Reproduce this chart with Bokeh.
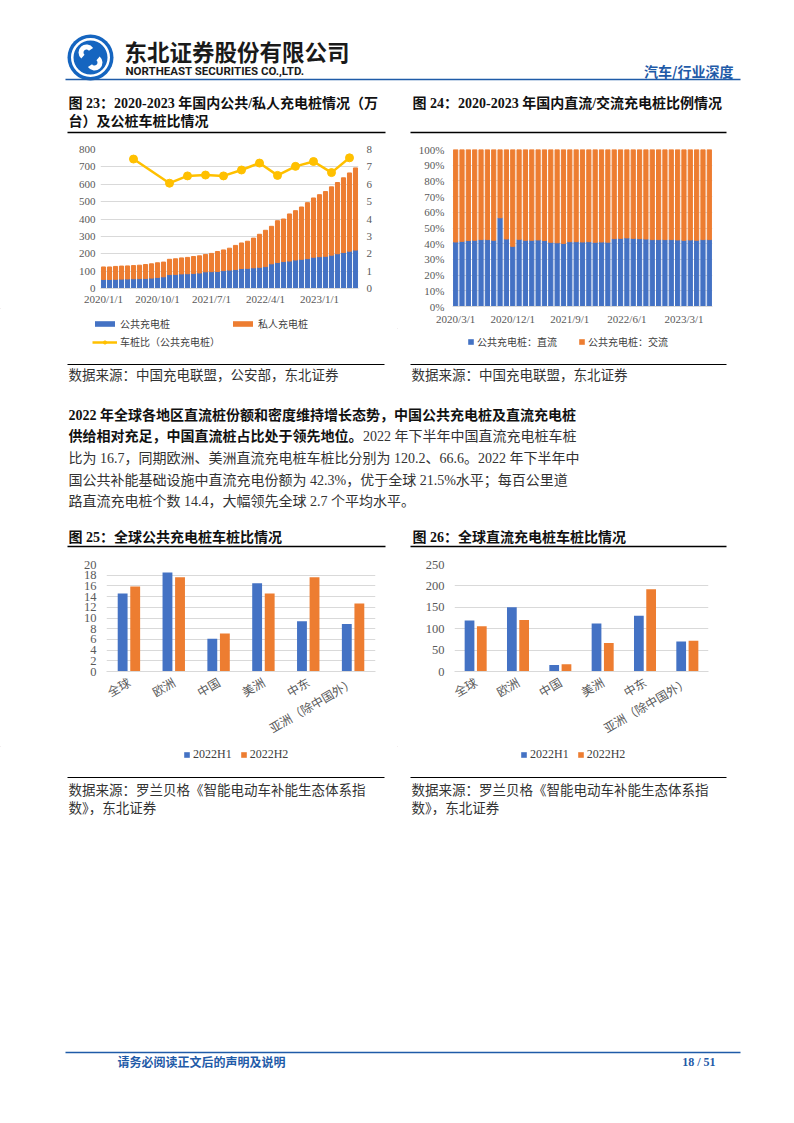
import math
from bokeh.plotting import figure
from bokeh.layouts import column, row
from bokeh.models import (Range1d, LinearAxis, FixedTicker, Legend, LegendItem,
                          ColumnDataSource, FactorRange, PrintfTickFormatter)
from bokeh.transform import dodge
from bokeh.core.properties import value
from bokeh.embed import file_html
from bokeh.resources import INLINE

# ---------------- data ----------------
all_months = [f"{y}/{m}/1" for y in range(2020, 2024) for m in range(1, 13)]
months23 = all_months[:43]          # 2020/1 .. 2023/7
public23 = [52, 52, 53, 54, 55, 56, 57, 58, 60, 64, 67, 80, 81, 84, 85, 87, 89, 96, 97, 98,
            103, 106, 109, 115, 116, 119, 122, 126, 142, 150, 155, 158, 164, 168, 172, 180,
            183, 185, 192, 200, 207, 215, 221]
private23 = [72, 72, 74, 75, 75, 76, 77, 80, 82, 84, 85, 88, 90, 92, 94, 97, 99, 100, 105, 115,
             119, 126, 139, 147, 156, 171, 190, 209, 216, 240, 245, 271, 284, 301, 322, 341,
             357, 373, 393, 410, 430, 450, 473]
ratio_months = ["2020/6/1", "2020/12/1", "2021/3/1", "2021/6/1", "2021/9/1", "2021/12/1",
                "2022/3/1", "2022/6/1", "2022/9/1", "2022/12/1", "2023/3/1", "2023/6/1"]
ratio_values = [7.45, 6.06, 6.48, 6.53, 6.48, 6.82, 7.22, 6.51, 7.03, 7.31, 6.67, 7.52]
tick_labels23 = ["2020/1/1", "2020/10/1", "2021/7/1", "2022/4/1", "2023/1/1"]

months24 = all_months[2:43]         # 2020/3 .. 2023/7
dc_share24 = [41.1, 41.5, 42.0, 42.2, 42.6, 42.6, 42.2, 56.5, 43.0, 38.3, 42.8, 42.2, 42.2,
              42.4, 42.0, 40.9, 40.6, 40.2, 41.3, 41.3, 41.1, 41.3, 40.9, 41.1, 41.0, 43.2,
              43.4, 43.7, 43.4, 43.2, 43.0, 42.6, 42.6, 42.6, 42.6, 42.4, 42.2, 42.4, 42.2,
              42.6, 42.6]
ac_share24 = [100 - v for v in dc_share24]
tick_labels24 = ["2020/3/1", "2020/12/1", "2021/9/1", "2022/6/1", "2023/3/1"]

regions = ["全球", "欧洲", "中国", "美洲", "中东", "亚洲（除中国外）"]
ratio25_h1 = [14.6, 18.5, 6.1, 16.5, 9.4, 8.9]
ratio25_h2 = [15.9, 17.6, 7.1, 14.6, 17.6, 12.7]
dc26_h1 = [119, 150, 15, 112, 130, 70]
dc26_h2 = [106, 120.2, 16.7, 66.6, 192, 72]

# ---------------- style ----------------
BLUE = "#4472C4"
ORANGE = "#ED7D31"
YELLOW = "#FFC000"
GRID = "#D9D9D9"
CJK = "Noto Sans CJK SC"
MIX = "Liberation Serif, Noto Sans CJK SC"
SERIF = "Liberation Serif"
HBLUE = "#1F5BA8"
PAGE_W = 794
HALF = 397


def band(x0, y0, w, h):
    p = figure(width=w, height=h, x_range=Range1d(x0, x0 + w), y_range=Range1d(y0 + h, y0),
               min_border=0, toolbar_location=None, output_backend="svg",
               x_axis_location=None, y_axis_location=None)
    p.grid.visible = False
    p.outline_line_color = None
    return p


def txt(p, x, y, s, size, bold=False, color="#222222", align="left", font=CJK):
    p.text(x=[x], y=[y], text=[s], text_font=value(font), text_font_size=f"{size}px",
           text_font_style="bold" if bold else "normal", text_color=color,
           text_align=align, text_baseline="middle")


def hline(p, x0, x1, y, color="black", width=1.0):
    p.segment(x0=[x0], y0=[y], x1=[x1], y1=[y], line_color=color, line_width=width)


def style_axes(p, size="11px"):
    for ax in p.axis:
        ax.major_tick_line_color = None
        ax.minor_tick_line_color = None
        ax.major_tick_out = 0
        ax.major_tick_in = 0
        ax.minor_tick_out = 0
        ax.minor_tick_in = 0
        ax.axis_line_color = None
        ax.major_label_text_font = SERIF
        ax.major_label_text_font_size = size
        ax.major_label_text_color = "#595959"
    p.xaxis.axis_line_color = GRID
    p.ygrid.grid_line_color = GRID
    p.xgrid.visible = False
    p.outline_line_color = None


def legend_band(x0, y0, w, h, rows_spec, font=CJK, size="10px"):
    """A strip that only carries a legend. Its proxy renderers sit far outside the visible range."""
    p = band(x0, y0, w, h)
    ox, oy = x0 - 5000, y0 - 5000
    for vx, vy, spacing, gw, gh, items in rows_spec:
        litems = []
        for label, kind, color in items:
            if kind == "bar":
                r = p.vbar(x=[ox], bottom=[oy], top=[oy - 1], width=1, fill_color=color,
                           line_color=None)
                litems.append(LegendItem(label=label, renderers=[r]))
            else:
                r1 = p.line([ox, ox - 1], [oy, oy], line_color=color, line_width=2.5)
                r2 = p.scatter([ox], [oy], marker="circle", size=8, fill_color=color,
                               line_color=color)
                litems.append(LegendItem(label=label, renderers=[r1, r2]))
        p.add_layout(Legend(items=litems, location=(vx, vy), orientation="horizontal",
                            spacing=spacing, glyph_width=gw, glyph_height=gh, label_height=12,
                            label_standoff=3, padding=0, margin=0, border_line_color=None,
                            background_fill_alpha=0, label_text_font=font,
                            label_text_font_size=size, label_text_color="#404040"))
    return p


# ---------------- header ----------------
hdr = band(0, 0, PAGE_W, 88)
hdr.circle(x=[90], y=[57], radius=23, fill_color="#1565C0", line_color=None)
hdr.annulus(x=[90], y=[57], inner_radius=17, outer_radius=19.5, fill_color="white", line_color=None)
hdr.annular_wedge(x=[86], y=[52], inner_radius=3, outer_radius=8, start_angle=0.6, end_angle=4.0,
                  fill_color="white", line_color=None)
hdr.annular_wedge(x=[94], y=[62], inner_radius=3, outer_radius=8, start_angle=3.75, end_angle=7.15,
                  fill_color="white", line_color=None)
txt(hdr, 124, 50, "东北证券股份有限公司", 22.5, bold=True, color="#1a1a1a")
txt(hdr, 125, 70, "NORTHEAST SECURITIES CO.,LTD.", 11.5, bold=True, color="#1a1a1a", font="Roboto")
txt(hdr, 733, 70, "汽车/行业深度", 14, bold=True, color=HBLUE, align="right")
hline(hdr, 65, 740, 79, color=HBLUE, width=1.5)

# ---------------- titles 23/24 ----------------
t1 = band(0, 88, PAGE_W, 52)
txt(t1, 68, 103, "图 23：2020-2023 年国内公共/私人充电桩情况（万", 14, bold=True, color="#111111", font=MIX)
txt(t1, 68, 121, "台）及公桩车桩比情况", 14, bold=True, color="#111111", font=MIX)
txt(t1, 412, 103, "图 24：2020-2023 年国内直流/交流充电桩比例情况", 14, bold=True, color="#111111", font=MIX)
hline(t1, 67, 385, 132, width=1.5)
hline(t1, 410, 726, 132, width=1.5)

# ---------------- chart 23 ----------------
n23 = len(months23)
p23 = figure(width=HALF, height=168, x_range=Range1d(-0.5, n23 - 0.5), y_range=Range1d(0, 800),
             min_border_left=100, min_border_right=39, min_border_top=9, min_border_bottom=20,
             toolbar_location=None, output_backend="svg")
p23.extra_y_ranges = {"ratio": Range1d(0, 8)}
src23 = ColumnDataSource(dict(x=list(range(n23)), public=public23, private=private23))
rs23 = p23.vbar_stack(["public", "private"], x="x", width=0.68, color=[BLUE, ORANGE], source=src23)
rx = [months23.index(m) for m in ratio_months]
ln = p23.line(rx, ratio_values, y_range_name="ratio", line_color=YELLOW, line_width=2.5)
sc = p23.scatter(rx, ratio_values, y_range_name="ratio", marker="circle", size=8,
                 fill_color=YELLOW, line_color=YELLOW)
p23.add_layout(LinearAxis(y_range_name="ratio", ticker=FixedTicker(ticks=list(range(0, 9)))), "right")
p23.yaxis[0].ticker = FixedTicker(ticks=list(range(0, 801, 100)))
t23 = [months23.index(t) for t in tick_labels23]
p23.xaxis.ticker = FixedTicker(ticks=t23)
p23.xaxis.major_label_overrides = {i: months23[i] for i in t23}
style_axes(p23)
p23.yaxis[0].major_label_standoff = 5
p23.yaxis[1].major_label_standoff = 8
p23.xaxis.major_label_standoff = 4
leg23 = legend_band(0, 308, HALF, 47, [
    (92, 24, 60, 25, 7, [("公共充电桩", "bar", BLUE), ("私人充电桩", "bar", ORANGE)]),
    (92, 6, 10, 25, 8, [("车桩比（公共充电桩）", "line", YELLOW)]),
])

# ---------------- chart 24 ----------------
n24 = len(months24)
p24 = figure(width=HALF, height=188, x_range=Range1d(-0.5, n24 - 0.5), y_range=Range1d(0, 100),
             min_border_left=55, min_border_right=82, min_border_top=9, min_border_bottom=22,
             toolbar_location=None, output_backend="svg")
src24 = ColumnDataSource(dict(x=list(range(n24)), dc=dc_share24, ac=ac_share24))
rs24 = p24.vbar_stack(["dc", "ac"], x="x", width=0.66, color=[BLUE, ORANGE], source=src24)
p24.yaxis.ticker = FixedTicker(ticks=list(range(0, 101, 10)))
p24.yaxis.formatter = PrintfTickFormatter(format="%d%%")
t24 = [months24.index(t) for t in tick_labels24]
p24.xaxis.ticker = FixedTicker(ticks=t24)
p24.xaxis.major_label_overrides = {i: months24[i] for i in t24}
style_axes(p24)
p24.yaxis.major_label_standoff = 8
p24.xaxis.major_label_standoff = 6
leg24 = legend_band(HALF, 328, HALF, 27, [
    (70, 6, 21, 7, 7, [("公共充电桩：直流", "bar", BLUE), ("公共充电桩：交流", "bar", ORANGE)]),
])

# ---------------- sources 23/24 ----------------
s1 = band(0, 355, PAGE_W, 30)
hline(s1, 67, 384, 364)
hline(s1, 410, 726, 364)
txt(s1, 68, 373, "数据来源：中国充电联盟，公安部，东北证券", 13.5, color="#333333")
txt(s1, 411, 373, "数据来源：中国充电联盟，东北证券", 13.5, color="#333333")

# ---------------- paragraph ----------------
pg = band(0, 385, PAGE_W, 135)
txt(pg, 68, 415, "2022 年全球各地区直流桩份额和密度维持增长态势，中国公共充电桩及直流充电桩", 14,
    bold=True, color="#111111", font=MIX)
txt(pg, 68, 436, "供给相对充足，中国直流桩占比处于领先地位。", 14, bold=True, color="#111111", font=MIX)
txt(pg, 576, 436, "2022 年下半年中国直流充电桩车桩", 14, color="#333333", align="right", font=MIX)
txt(pg, 68, 458, "比为 16.7，同期欧洲、美洲直流充电桩车桩比分别为 120.2、66.6。2022 年下半年中", 14,
    color="#333333", font=MIX)
txt(pg, 68, 480, "国公共补能基础设施中直流充电份额为 42.3%，优于全球 21.5%水平；每百公里道", 14,
    color="#333333", font=MIX)
txt(pg, 68, 501, "路直流充电桩个数 14.4，大幅领先全球 2.7 个平均水平。", 14, color="#333333", font=MIX)

# ---------------- titles 25/26 ----------------
t2 = band(0, 520, PAGE_W, 32)
txt(t2, 68, 537, "图 25：全球公共充电桩车桩比情况", 14, bold=True, color="#111111", font=MIX)
txt(t2, 412, 537, "图 26：全球直流充电桩车桩比情况", 14, bold=True, color="#111111", font=MIX)
hline(t2, 67, 385, 546, width=1.5)
hline(t2, 410, 726, 546, width=1.5)


# ---------------- charts 25/26 ----------------
def grouped(h1, h2, ymax, step, mb, off, width):
    p = figure(width=HALF, height=194, x_range=FactorRange(*regions), y_range=Range1d(0, ymax),
               min_border_left=mb[0], min_border_right=mb[1], min_border_top=mb[2],
               min_border_bottom=mb[3], toolbar_location=None, output_backend="svg")
    src = ColumnDataSource(dict(cat=regions, h1=h1, h2=h2))
    p.vbar(x=dodge("cat", -off, range=p.x_range), top="h1", width=width, source=src,
           fill_color=BLUE, line_color=None)
    p.vbar(x=dodge("cat", off, range=p.x_range), top="h2", width=width, source=src,
           fill_color=ORANGE, line_color=None)
    p.yaxis.ticker = FixedTicker(ticks=list(range(0, ymax + 1, step)))
    style_axes(p, size="12.5px")
    p.yaxis.major_label_standoff = 10
    p.xaxis.major_label_orientation = math.pi / 6
    p.xaxis.major_label_text_font = CJK
    p.xaxis.major_label_text_font_size = "12px"
    p.xaxis.major_label_standoff = 9
    return p


p25 = grouped(ratio25_h1, ratio25_h2, 20, 2, (106, 22, 12, 72), 0.14, 0.22)
p26 = grouped(dc26_h1, dc26_h2, 250, 50, (57, 86, 12, 73), 0.145, 0.23)
leg25 = legend_band(0, 746, HALF, 24, [
    (183, 8, 8, 7, 7, [("2022H1", "bar", BLUE), ("2022H2", "bar", ORANGE)]),
], font=SERIF, size="12px")
leg26 = legend_band(HALF, 746, HALF, 24, [
    (123, 8, 8, 7, 7, [("2022H1", "bar", BLUE), ("2022H2", "bar", ORANGE)]),
], font=SERIF, size="12px")

# ---------------- sources 25/26 ----------------
s2 = band(0, 770, PAGE_W, 45)
hline(s2, 67, 384, 777)
hline(s2, 410, 726, 777)
for x0 in (68, 411):
    txt(s2, x0, 788, "数据来源：罗兰贝格《智能电动车补能生态体系指", 13.5, color="#333333")
    txt(s2, x0, 806, "数》，东北证券", 13.5, color="#333333")

# ---------------- footer ----------------
ft = band(0, 815, PAGE_W, 260)
hline(ft, 65, 740, 1052, color=HBLUE, width=1.5)
txt(ft, 117, 1061, "请务必阅读正文后的声明及说明", 12, bold=True, color=HBLUE)
txt(ft, 715, 1061, "18 / 51", 12, bold=True, color=HBLUE, align="right", font=SERIF)

# Each legend strip is wrapped in its own row so the column does not align its frame
# with the chart above it.
layout = column(hdr, t1,
                row(column(p23, row(leg23, spacing=0), spacing=0),
                    column(p24, row(leg24, spacing=0), spacing=0), spacing=0),
                s1, pg, t2,
                row(column(p25, row(leg25, spacing=0), spacing=0),
                    column(p26, row(leg26, spacing=0), spacing=0), spacing=0),
                s2, ft, spacing=0)
open("out.html", "w").write(file_html(layout, INLINE))
